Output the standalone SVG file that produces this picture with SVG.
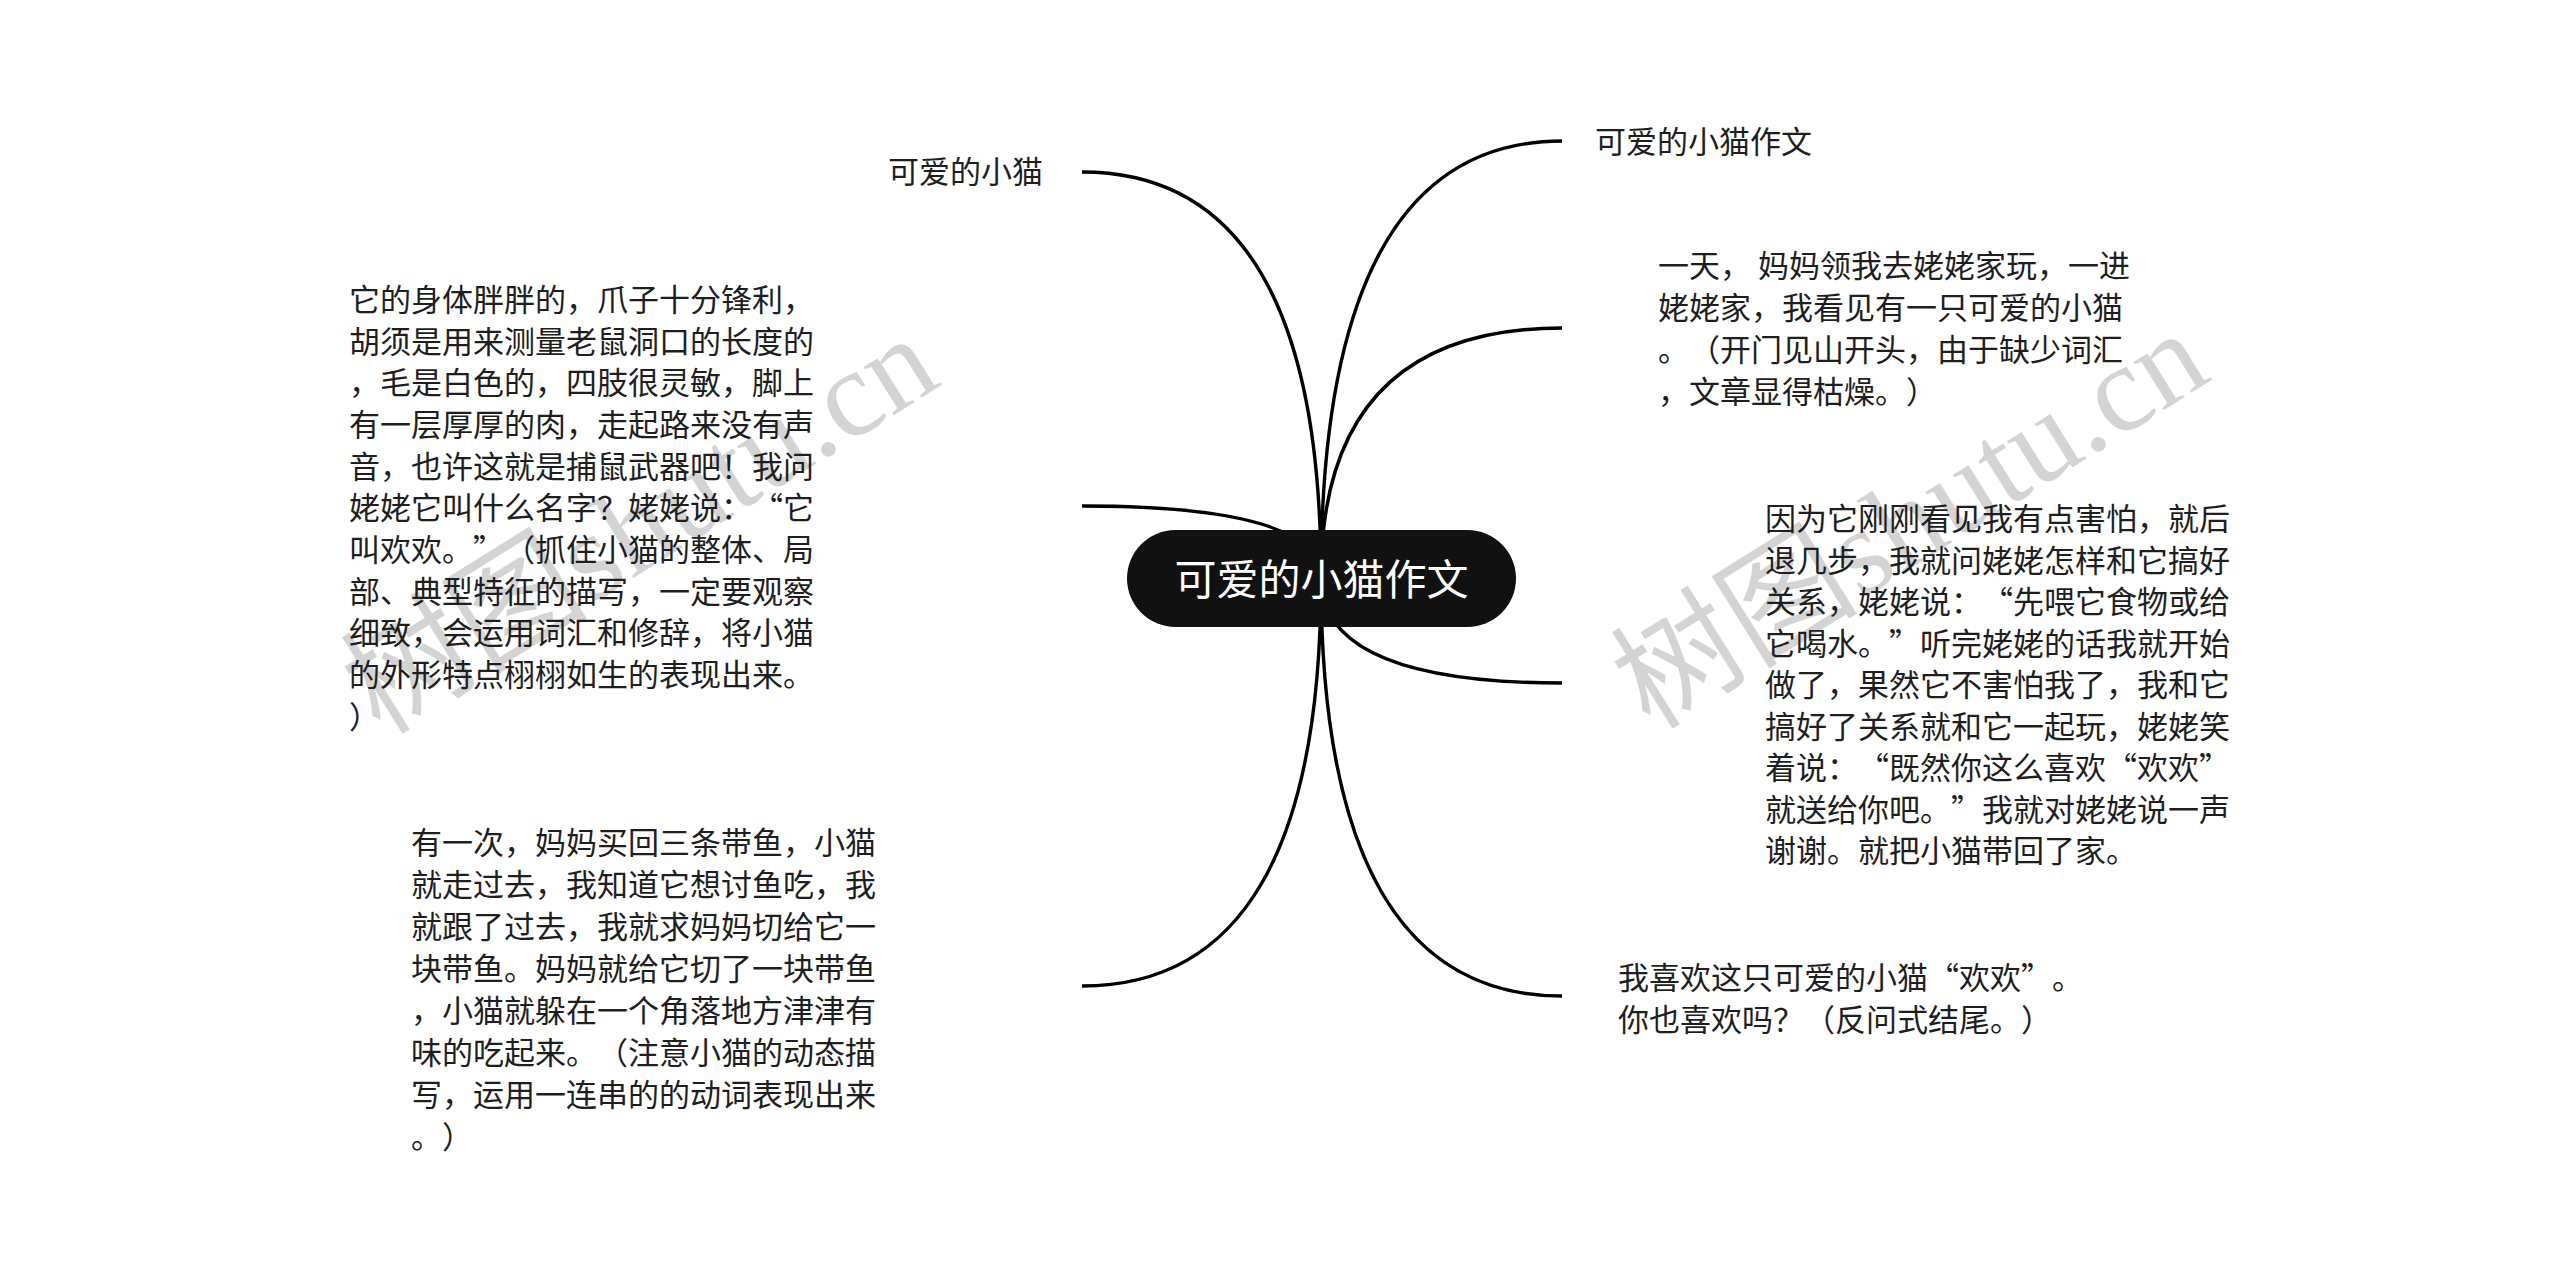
<svg xmlns="http://www.w3.org/2000/svg" width="2560" height="1273" viewBox="0 0 2560 1273">
<style>
.wm{font-family:"Liberation Serif","Noto Sans CJK SC",serif;font-size:124px;fill:#000;fill-opacity:0.17}
.t{font-family:"Noto Sans CJK SC","Noto Sans",sans-serif;font-size:31px;fill:#1e1e1e;text-spacing-trim:space-all;font-feature-settings:"chws" 0,"halt" 0,"palt" 0}
.c{font-family:"Noto Sans CJK SC","Noto Sans",sans-serif;font-size:42px;fill:#fff;text-anchor:middle}
.ln{fill:none;stroke:#000;stroke-width:3.4}
</style>
<rect x="0" y="0" width="2560" height="1273" fill="#fff"/>
<g id="watermarks">
<text class="wm" transform="translate(662,560) rotate(-32)" text-anchor="middle">树图shutu.cn</text>
<text class="wm" transform="translate(1932,555) rotate(-32)" text-anchor="middle">树图shutu.cn</text>
</g>
<g id="connectors">
<path class="ln" d="M1321,578 Q1321,172 1082,172"/>
<path class="ln" d="M1321,578 Q1321,506 1082,506"/>
<path class="ln" d="M1321,578 Q1321,986 1082,986"/>
<path class="ln" d="M1321,578 Q1321,141 1562,141"/>
<path class="ln" d="M1321,578 Q1321,328 1562,328"/>
<path class="ln" d="M1321,578 Q1321,683 1562,683"/>
<path class="ln" d="M1321,578 Q1321,996 1562,996"/>
</g>
<g id="root">
<rect x="1127" y="530" width="389" height="97" rx="48.5" fill="#111"/>
<text class="c" x="1321.5" y="595">可爱的小猫作文</text>
</g>
<g id="node-left-title">
<text class="t" x="888" y="183">可爱的小猫</text>
</g>
<g id="node-left-body">
<text class="t">
<tspan x="349" y="311">它的身体胖胖的，爪子十分锋利，</tspan>
<tspan x="349" dy="41.65">胡须是用来测量老鼠洞口的长度的</tspan>
<tspan x="349" dy="41.65">，毛是白色的，四肢很灵敏，脚上</tspan>
<tspan x="349" dy="41.65">有一层厚厚的肉，走起路来没有声</tspan>
<tspan x="349" dy="41.65">音，也许这就是捕鼠武器吧！我问</tspan>
<tspan x="349" dy="41.65">姥姥它叫什么名字？姥姥说：“它</tspan>
<tspan x="349" dy="41.65">叫欢欢。”（抓住小猫的整体、局</tspan>
<tspan x="349" dy="41.65">部、典型特征的描写，一定要观察</tspan>
<tspan x="349" dy="41.65">细致，会运用词汇和修辞，将小猫</tspan>
<tspan x="349" dy="41.65">的外形特点栩栩如生的表现出来。</tspan>
<tspan x="349" dy="41.65">）</tspan>
</text>
</g>
<g id="node-left-fish">
<text class="t">
<tspan x="411" y="854">有一次，妈妈买回三条带鱼，小猫</tspan>
<tspan x="411" dy="42">就走过去，我知道它想讨鱼吃，我</tspan>
<tspan x="411" dy="42">就跟了过去，我就求妈妈切给它一</tspan>
<tspan x="411" dy="42">块带鱼。妈妈就给它切了一块带鱼</tspan>
<tspan x="411" dy="42">，小猫就躲在一个角落地方津津有</tspan>
<tspan x="411" dy="42">味的吃起来。（注意小猫的动态描</tspan>
<tspan x="411" dy="42">写，运用一连串的的动词表现出来</tspan>
<tspan x="411" dy="42">。）</tspan>
</text>
</g>
<g id="node-right-title">
<text class="t" x="1595" y="153">可爱的小猫作文</text>
</g>
<g id="node-right-start">
<text class="t">
<tspan x="1658" y="277">一天， 妈妈领我去姥姥家玩，一进</tspan>
<tspan x="1658" dy="42">姥姥家，我看见有一只可爱的小猫</tspan>
<tspan x="1658" dy="42">。（开门见山开头，由于缺少词汇</tspan>
<tspan x="1658" dy="42">，文章显得枯燥。）</tspan>
</text>
</g>
<g id="node-right-middle">
<text class="t">
<tspan x="1765" y="530">因为它刚刚看见我有点害怕，就后</tspan>
<tspan x="1765" dy="41.5">退几步，我就问姥姥怎样和它搞好</tspan>
<tspan x="1765" dy="41.5">关系，姥姥说：“先喂它食物或给</tspan>
<tspan x="1765" dy="41.5">它喝水。”听完姥姥的话我就开始</tspan>
<tspan x="1765" dy="41.5">做了，果然它不害怕我了，我和它</tspan>
<tspan x="1765" dy="41.5">搞好了关系就和它一起玩，姥姥笑</tspan>
<tspan x="1765" dy="41.5">着说：“既然你这么喜欢“欢欢”</tspan>
<tspan x="1765" dy="41.5">就送给你吧。”我就对姥姥说一声</tspan>
<tspan x="1765" dy="41.5">谢谢。就把小猫带回了家。</tspan>
</text>
</g>
<g id="node-right-end">
<text class="t">
<tspan x="1618" y="989">我喜欢这只可爱的小猫“欢欢”。</tspan>
<tspan x="1618" dy="42">你也喜欢吗？（反问式结尾。）</tspan>
</text>
</g>
</svg>
